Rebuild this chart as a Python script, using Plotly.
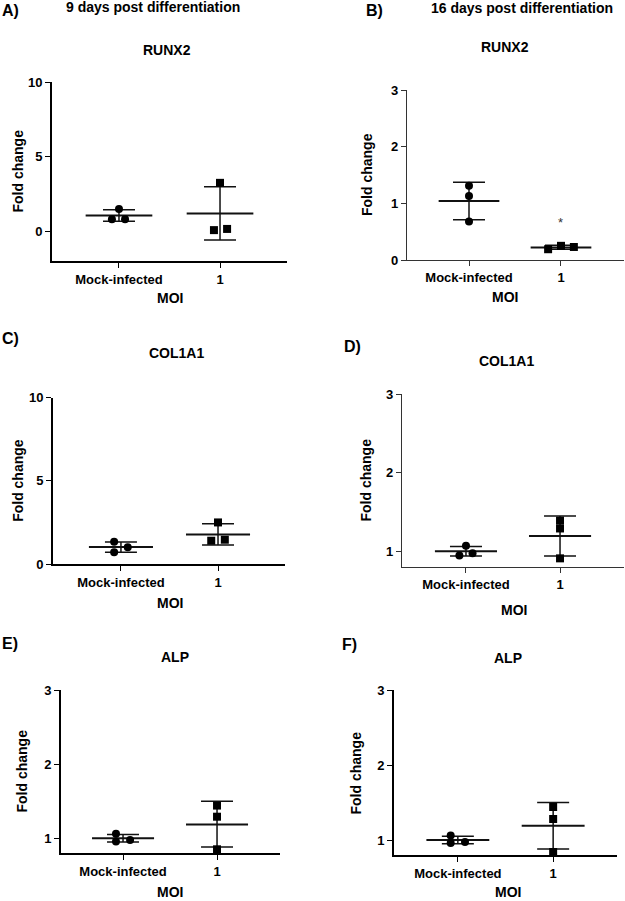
import plotly.graph_objects as go

# categories on every x axis
categories = ["Mock-infected", "1"]

# fold-change values (3 replicates per group)
runx2_d9_mock = [1.48, 0.80, 0.80]
runx2_d9_moi1 = [3.24, 0.07, 0.15]
runx2_d9_mean = [1.05, 1.19]
runx2_d9_upper = [1.43, 2.97]
runx2_d9_lower = [0.67, -0.60]

runx2_d16_mock = [1.31, 1.13, 0.68]
runx2_d16_moi1 = [0.19, 0.25, 0.23]
runx2_d16_mean = [1.04, 0.22]
runx2_d16_upper = [1.37, 0.26]
runx2_d16_lower = [0.71, 0.19]

col1a1_d9_mock = [1.34, 0.70, 1.00]
col1a1_d9_moi1 = [2.50, 1.40, 1.46]
col1a1_d9_mean = [1.02, 1.78]
col1a1_d9_upper = [1.33, 2.42]
col1a1_d9_lower = [0.70, 1.14]

col1a1_d16_mock = [1.07, 0.945, 0.975]
col1a1_d16_moi1 = [1.39, 1.29, 0.91]
col1a1_d16_mean = [1.00, 1.195]
col1a1_d16_upper = [1.06, 1.45]
col1a1_d16_lower = [0.94, 0.94]

alp_d9_mock = [1.06, 0.955, 0.975]
alp_d9_moi1 = [1.44, 1.29, 0.85]
alp_d9_mean = [1.00, 1.185]
alp_d9_upper = [1.05, 1.50]
alp_d9_lower = [0.95, 0.88]

alp_d16_mock = [1.06, 0.96, 0.975]
alp_d16_moi1 = [1.44, 1.28, 0.84]
alp_d16_mean = [1.00, 1.19]
alp_d16_upper = [1.05, 1.50]
alp_d16_lower = [0.95, 0.88]

W, H = 625, 901
FONT = "Arial, Liberation Sans, sans-serif"


def fx(p):
    return p / W


def fy(p):
    return 1 - p / H


# panel geometry (pixels) + ranges
panels = [
    dict(letter="A)", gene="RUNX2", mock=runx2_d9_mock, moi=runx2_d9_moi1, mean=runx2_d9_mean,
         up=runx2_d9_upper, lo=runx2_d9_lower, xpx=(52, 287), ypx=(82, 261), xr=(-0.663, 1.663),
         yr=(-2, 10), yt=[0, 5, 10], jm=[0, -0.07, 0.06], j1=[0, -0.06, 0.07], lw=2, lc="black",
         title=(167, 50), let=(0, 10), moi_lab=(170, 298), ytitle=18),
    dict(letter="B)", gene="RUNX2", mock=runx2_d16_mock, moi=runx2_d16_moi1, mean=runx2_d16_mean,
         up=runx2_d16_upper, lo=runx2_d16_lower, xpx=(407, 624), ypx=(90, 260), xr=(-0.674, 1.685),
         yr=(0, 3), yt=[0, 1, 2, 3], jm=[0, 0, 0], j1=[-0.14, 0, 0.14], lw=1.3, lc="#333",
         title=(505, 47), let=(364, 10), moi_lab=(505, 297), ytitle=367),
    dict(letter="C)", gene="COL1A1", mock=col1a1_d9_mock, moi=col1a1_d9_moi1, mean=col1a1_d9_mean,
         up=col1a1_d9_upper, lo=col1a1_d9_lower, xpx=(53, 285), ypx=(397.7, 564), xr=(-0.70, 1.69),
         yr=(0, 10), yt=[0, 5, 10], jm=[-0.07, -0.07, 0.07], j1=[0, -0.07, 0.07], lw=2, lc="black",
         title=(176, 353), let=(0, 338), moi_lab=(170, 603), ytitle=18),
    dict(letter="D)", gene="COL1A1", mock=col1a1_d16_mock, moi=col1a1_d16_moi1, mean=col1a1_d16_mean,
         up=col1a1_d16_upper, lo=col1a1_d16_lower, xpx=(402, 624), ypx=(394, 567), xr=(-0.68, 1.68),
         yr=(0.8, 3), yt=[1, 2, 3], jm=[0, -0.07, 0.07], j1=[0, 0, 0], lw=1.3, lc="#333",
         title=(506, 361), let=(342, 346), moi_lab=(514, 610), ytitle=365),
    dict(letter="E)", gene="ALP", mock=alp_d9_mock, moi=alp_d9_moi1, mean=alp_d9_mean,
         up=alp_d9_upper, lo=alp_d9_lower, xpx=(61, 280), ypx=(690, 853), xr=(-0.66, 1.67),
         yr=(0.8, 3), yt=[1, 2, 3], jm=[-0.075, -0.075, 0.075], j1=[0, 0, 0], lw=2, lc="black",
         title=(175, 657), let=(0, 643), moi_lab=(170, 892), ytitle=21),
    dict(letter="F)", gene="ALP", mock=alp_d16_mock, moi=alp_d16_moi1, mean=alp_d16_mean,
         up=alp_d16_upper, lo=alp_d16_lower, xpx=(394, 617), ypx=(690, 855), xr=(-0.67, 1.67),
         yr=(0.8, 3), yt=[1, 2, 3], jm=[-0.075, -0.075, 0.075], j1=[0, 0, 0], lw=2, lc="black",
         title=(508, 658), let=(340, 644), moi_lab=(508, 892), ytitle=355),
]


def label(text, x, y, size, xanchor="center", **kw):
    return dict(text=text, x=fx(x), y=fy(y), xref="paper", yref="paper",
                xanchor=xanchor, yanchor="middle", showarrow=False,
                font=dict(family=FONT, size=size, color="black", weight="bold"), **kw)


fig = go.Figure()
annotations = []
layout_axes = {}

for i, p in enumerate(panels, start=1):
    xa = "x" if i == 1 else f"x{i}"
    ya = "y" if i == 1 else f"y{i}"
    xkey = "xaxis" if i == 1 else f"xaxis{i}"
    ykey = "yaxis" if i == 1 else f"yaxis{i}"

    # mean lines
    for c, m in enumerate(p["mean"]):
        fig.add_trace(go.Scatter(
            x=[c - 0.33, c + 0.33], y=[m, m], mode="lines",
            line=dict(color="#111", width=2), xaxis=xa, yaxis=ya,
            showlegend=False, hoverinfo="skip"))

    # SD error bars
    fig.add_trace(go.Scatter(
        x=[0, 1], y=p["mean"], mode="markers",
        marker=dict(size=1, opacity=0),
        error_y=dict(type="data", symmetric=False,
                     array=[u - m for u, m in zip(p["up"], p["mean"])],
                     arrayminus=[m - l for m, l in zip(p["mean"], p["lo"])],
                     width=16, thickness=1.5, color="#111"),
        xaxis=xa, yaxis=ya, showlegend=False, hoverinfo="skip"))

    # replicate points
    fig.add_trace(go.Scatter(
        x=[0 + j for j in p["jm"]], y=p["mock"], mode="markers",
        marker=dict(symbol="circle", size=8, color="black"),
        xaxis=xa, yaxis=ya, showlegend=False, name=categories[0]))
    fig.add_trace(go.Scatter(
        x=[1 + j for j in p["j1"]], y=p["moi"], mode="markers",
        marker=dict(symbol="square", size=8, color="black"),
        xaxis=xa, yaxis=ya, showlegend=False, name=categories[1]))

    common = dict(showline=True, linecolor=p["lc"], linewidth=p["lw"], ticks="outside",
                  ticklen=5, tickwidth=1.3, tickcolor=p["lc"], showgrid=False, zeroline=False,
                  automargin=False,
                  tickfont=dict(family=FONT, size=13, color="black", weight="bold"))
    layout_axes[xkey] = dict(domain=[fx(p["xpx"][0]), fx(p["xpx"][1])], range=list(p["xr"]),
                             anchor=ya, tickvals=[0, 1], ticktext=categories, **common)
    layout_axes[ykey] = dict(domain=[fy(p["ypx"][1]), fy(p["ypx"][0])], range=list(p["yr"]),
                             anchor=xa, tickvals=p["yt"], **common)

    annotations.append(label(p["gene"], p["title"][0], p["title"][1], 14))
    annotations.append(label(p["letter"], p["let"][0], p["let"][1], 16, xanchor="left"))
    annotations.append(label("MOI", p["moi_lab"][0], p["moi_lab"][1], 14))
    ymid = (p["ypx"][0] + p["ypx"][1]) / 2
    annotations.append(label("Fold change", p["ytitle"], ymid, 14, textangle=-90))

# column headers
annotations.append(label("9 days post differentiation", 153, 7, 14))
annotations.append(label("16 days post differentiation", 522, 8, 14))

# significance star (panel B)
annotations.append(dict(text="*", x=1, y=0.66, xref="x2", yref="y2", showarrow=False,
                        font=dict(family=FONT, size=13, color="#333")))

fig.update_layout(
    width=W, height=H,
    margin=dict(l=0, r=0, t=0, b=0, autoexpand=False),
    paper_bgcolor="white", plot_bgcolor="white",
    annotations=annotations,
    **layout_axes
)

# the page body has a default 8px margin; drop it so the figure fills the window
fig.write_html("out.html", config={"displayModeBar": False},
               post_script="document.body.style.margin = '0px';")
